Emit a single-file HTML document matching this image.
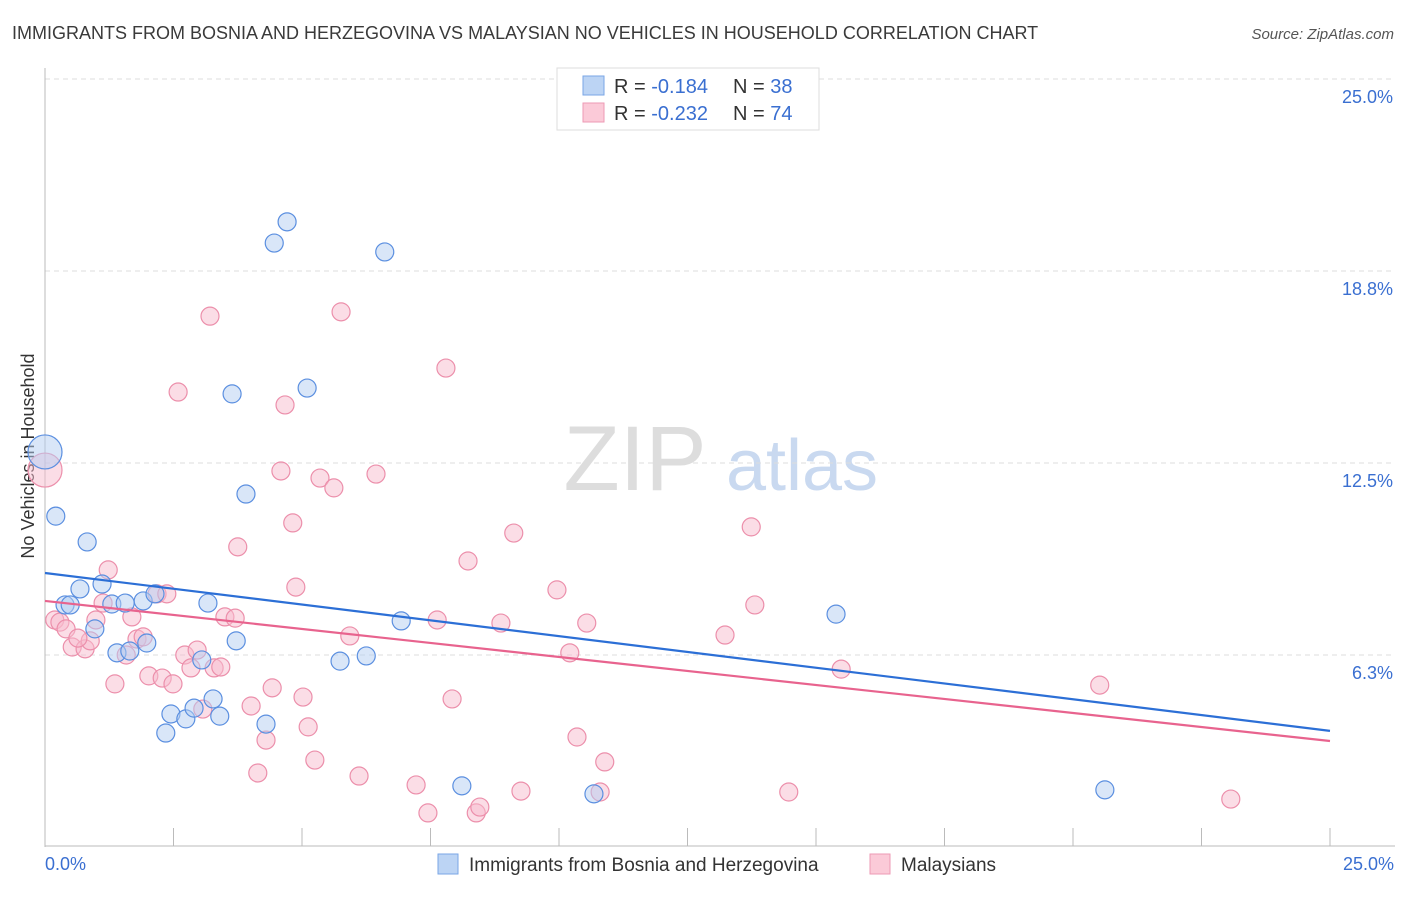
<!DOCTYPE html>
<html><head><meta charset="utf-8"><style>
body{margin:0;background:#fff;font-family:"Liberation Sans",sans-serif;}
svg text{font-family:"Liberation Sans",sans-serif;}
</style></head><body>
<svg id="chart" width="1406" height="892" xmlns="http://www.w3.org/2000/svg">
<text x="12" y="39" font-size="18" fill="#3a3a3a">IMMIGRANTS FROM BOSNIA AND HERZEGOVINA VS MALAYSIAN NO VEHICLES IN HOUSEHOLD CORRELATION CHART</text>
<text x="1394" y="39" font-size="15" fill="#555" text-anchor="end" font-style="italic">Source: ZipAtlas.com</text>
<text transform="translate(34,456) rotate(-90)" font-size="18" fill="#333" text-anchor="middle">No Vehicles in Household</text>
<g>
<text x="635" y="490" font-size="92" fill="#ddd" font-family="Liberation Serif" text-anchor="middle">ZIP</text>
<text x="802" y="490" font-size="72" fill="#c9d9f0" text-anchor="middle">atlas</text>
</g>
<g id="grid"></g>
<g id="axes"></g>
<g id="marks"></g>
<g>
<rect x="557" y="68" width="262" height="62" fill="#fff" stroke="#ddd"/>
<rect x="583" y="76" width="21" height="19" fill="#bcd4f4" stroke="#7aa6e6"/>
<rect x="583" y="103" width="21" height="19" fill="#fbcad8" stroke="#ee9ab4"/>
<text x="614" y="93" font-size="20" fill="#333">R = <tspan fill="#3a6fd1">-0.184</tspan><tspan x="733">N = </tspan><tspan fill="#3a6fd1">38</tspan></text>
<text x="614" y="120" font-size="20" fill="#333">R = <tspan fill="#3a6fd1">-0.232</tspan><tspan x="733">N = </tspan><tspan fill="#3a6fd1">74</tspan></text>
</g>
<g>
<rect x="438" y="854" width="20" height="20" fill="#bcd4f4" stroke="#7aa6e6"/>
<text x="469" y="871" font-size="19" fill="#333">Immigrants from Bosnia and Herzegovina</text>
<rect x="870" y="854" width="20" height="20" fill="#fbcad8" stroke="#ee9ab4"/>
<text x="901" y="871" font-size="19" fill="#333">Malaysians</text>
</g>
</svg>
<script>
const yTicks=[6.25,12.5,18.75,25];
const yTickLabels=["6.3%","12.5%","18.8%","25.0%"];
const xTickLabels=["0.0%","25.0%"];
const blueX=[0,0.21,0.82,0.68,0.39,0.49,1.11,0.97,1.30,1.56,1.91,2.14,1.98,1.40,1.65,3.17,3.72,2.45,2.74,2.90,2.35,3.27,3.40,3.05,3.91,3.64,5.10,4.46,4.71,6.61,4.30,5.74,6.25,6.93,8.11,10.68,15.39,20.62];
const blueY=[12.86,10.77,9.93,8.40,7.88,7.88,8.56,7.10,7.91,7.94,8.01,8.24,6.64,6.32,6.38,7.94,6.71,4.33,4.17,4.52,3.71,4.82,4.26,6.09,11.49,14.75,14.94,19.66,20.35,19.37,4.00,6.05,6.22,7.36,1.99,1.73,7.58,1.86];
const pinkX=[0,0.19,0.29,0.41,0.53,0.78,0.88,0.64,0.99,1.23,1.13,1.36,1.58,1.69,1.79,1.91,2.02,2.28,2.49,2.18,2.37,2.59,2.72,2.84,2.96,3.07,3.21,3.29,3.42,3.50,3.70,3.75,4.01,4.14,4.30,4.42,4.59,4.67,4.82,4.88,5.02,5.12,5.25,5.35,5.62,5.76,5.93,6.11,6.44,7.22,7.45,7.63,7.80,7.92,8.23,8.39,8.46,8.87,9.12,9.26,9.96,10.21,10.35,10.54,10.80,10.89,13.23,13.74,13.81,14.47,15.49,20.52,23.07];
const pinkY=[12.27,7.39,7.32,7.10,6.51,6.45,6.71,6.80,7.39,9.02,7.94,5.31,6.25,7.49,6.77,6.84,5.57,5.50,5.31,8.24,8.24,14.81,6.25,5.83,6.41,4.49,17.28,5.83,5.86,7.49,7.45,9.77,4.59,2.41,3.48,5.18,12.24,14.39,10.55,8.46,4.88,3.91,2.83,12.01,11.69,17.42,6.87,2.31,12.14,2.02,1.11,7.39,15.59,4.82,9.31,1.11,1.30,7.29,10.22,1.82,8.37,6.32,3.58,7.29,1.79,2.77,6.90,10.42,7.88,1.79,5.79,5.27,1.56];
const blueTrend=[8.92,3.78];
const pinkTrend=[8.01,3.45];
const NS="http://www.w3.org/2000/svg";
const X0=45,X1=1330,Y0=847,Y25=79;
function sx(v){return X0+(X1-X0)*v/25;}
function sy(v){return Y0+(Y25-Y0)*v/25;}
function mk(tag,attrs,parent){const e=document.createElementNS(NS,tag);for(const k in attrs)e.setAttribute(k,attrs[k]);parent.appendChild(e);return e;}
const grid=document.getElementById('grid'),axes=document.getElementById('axes'),marks=document.getElementById('marks');
yTicks.forEach((t,i)=>{
 const l=mk('line',{x1:45,x2:1395,y1:sy(t),y2:sy(t),stroke:'#ddd','stroke-dasharray':'5,4'},grid);
 
 
 const tx=mk('text',{x:1393,y:sy(t)+24,'font-size':18,fill:'#3a6fd1','text-anchor':'end'},axes);
 tx.textContent=yTickLabels[i];
 
 
});
const ya=mk('line',{x1:45,x2:45,y1:68,y2:847,stroke:'#bbb'},axes);


const xa=mk('line',{x1:45,x2:1395,y1:846,y2:846,stroke:'#bbb'},axes);


for(let i=0;i<=10;i++){
 const t=mk('line',{x1:sx(i*2.5),x2:sx(i*2.5),y1:828,y2:846,stroke:'#bbb'},axes);
 
 
}
[[0,'start',45],[25,'end',1394]].forEach((p,i)=>{
 const tx=mk('text',{x:p[2],y:870,'font-size':18,fill:'#3a6fd1','text-anchor':p[1]},axes);
 tx.textContent=xTickLabels[i];
 
 
});
function pts(xs,ys,fill,stroke,name){
 xs.forEach((x,i)=>{
  const c=mk('circle',{cx:sx(x),cy:sy(ys[i]),r:(i===0?17:9),fill:fill,'fill-opacity':0.5,stroke:stroke,'stroke-width':1.2},marks);
  
  
 });
}
pts(pinkX,pinkY,'#f8bccd','#ec8fab','malaysians-point');
pts(blueX,blueY,'#b3cdf1','#5b8fe0','bosnia-point');
const bl=mk('line',{x1:sx(0),y1:sy(blueTrend[0]),x2:sx(25),y2:sy(blueTrend[1]),stroke:'#2c6fd6','stroke-width':2.2},marks);


const pl=mk('line',{x1:sx(0),y1:sy(pinkTrend[0]),x2:sx(25),y2:sy(pinkTrend[1]),stroke:'#e8638e','stroke-width':2.2},marks);


</script>
</body></html>
